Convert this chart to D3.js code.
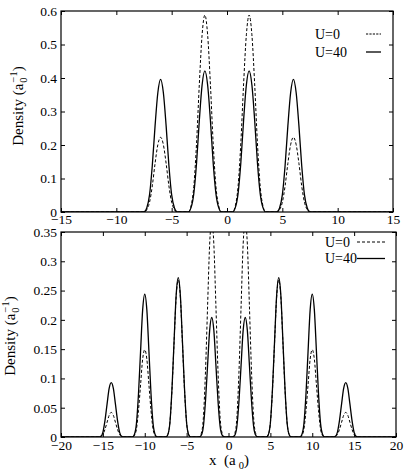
<!DOCTYPE html>
<html>
<head>
<meta charset="utf-8">
<script src="https://cdn.jsdelivr.net/npm/d3@7"></script>
<style>
  body { margin: 0; background: white; }
  svg text { font-family: "Liberation Serif", "Times New Roman", serif; fill: black; }
</style>
</head>
<body>
<div id="chart"></div>
<script>
// top panel samples (x in a0)
var topX = [-15,
  -7.5, -7.25, -7, -6.75, -6.5, -6.25, -6, -5.75, -5.5, -5.25, -5, -4.75, -4.5,
  -3.5, -3.25, -3, -2.75, -2.5, -2.25, -2, -1.75, -1.5, -1.25, -1, -0.75, -0.5,
  0.5, 0.75, 1, 1.25, 1.5, 1.75, 2, 2.25, 2.5, 2.75, 3, 3.25, 3.5,
  4.5, 4.75, 5, 5.25, 5.5, 5.75, 6, 6.25, 6.5, 6.75, 7, 7.25, 7.5,
  15];
var topU0 = [0,
  0, .007, .029, .078, .145, .201, .223, .201, .145, .078, .029, .007, 0,
  0, .018, .076, .206, .382, .529, .588, .529, .382, .206, .076, .018, 0,
  0, .018, .076, .206, .382, .529, .588, .529, .382, .206, .076, .018, 0,
  0, .007, .029, .078, .145, .201, .223, .201, .145, .078, .029, .007, 0,
  0];
var topU40 = [0,
  0, .012, .051, .139, .257, .356, .396, .356, .257, .139, .051, .012, 0,
  0, .013, .055, .147, .274, .379, .421, .379, .274, .147, .055, .013, 0,
  0, .013, .055, .147, .274, .379, .421, .379, .274, .147, .055, .013, 0,
  0, .012, .051, .139, .257, .356, .396, .356, .257, .139, .051, .012, 0,
  0];

// bottom panel samples
var botX = [-20,
  -15.5, -15.25, -15, -14.75, -14.5, -14.25, -14, -13.75, -13.5, -13.25, -13, -12.75, -12.5,
  -11.5, -11.25, -11, -10.75, -10.5, -10.25, -10, -9.75, -9.5, -9.25, -9, -8.75, -8.5,
  -7.5, -7.25, -7, -6.75, -6.5, -6.25, -6, -5.75, -5.5, -5.25, -5, -4.75, -4.5,
  -3.5, -3.25, -3, -2.75, -2.5, -2.25, -2, -1.75, -1.5, -1.25, -1, -0.75, -0.5,
  0.5, 0.75, 1, 1.25, 1.5, 1.75, 2, 2.25, 2.5, 2.75, 3, 3.25, 3.5,
  4.5, 4.75, 5, 5.25, 5.5, 5.75, 6, 6.25, 6.5, 6.75, 7, 7.25, 7.5,
  8.5, 8.75, 9, 9.25, 9.5, 9.75, 10, 10.25, 10.5, 10.75, 11, 11.25, 11.5,
  12.5, 12.75, 13, 13.25, 13.5, 13.75, 14, 14.25, 14.5, 14.75, 15, 15.25, 15.5,
  20];
var botU0 = [0,
  0, .001, .004, .013, .025, .037, .042, .037, .025, .013, .004, .001, 0,
  0, .002, .013, .045, .089, .133, .149, .133, .089, .045, .013, .002, 0,
  0, .004, .024, .080, .161, .239, .268, .239, .161, .080, .024, .004, 0,
  0, .006, .033, .111, .222, .329, .370, .329, .222, .111, .033, .006, 0,
  0, .006, .033, .111, .222, .329, .370, .329, .222, .111, .033, .006, 0,
  0, .004, .024, .080, .161, .239, .268, .239, .161, .080, .024, .004, 0,
  0, .002, .013, .045, .089, .133, .149, .133, .089, .045, .013, .002, 0,
  0, .001, .004, .013, .025, .037, .042, .037, .025, .013, .004, .001, 0,
  0];
var botU40 = [0,
  0, .001, .008, .028, .056, .083, .093, .083, .056, .028, .008, .001, 0,
  0, .004, .022, .073, .146, .217, .244, .217, .146, .073, .022, .004, 0,
  0, .004, .024, .082, .163, .242, .272, .242, .163, .082, .024, .004, 0,
  0, .003, .018, .061, .122, .182, .204, .182, .122, .061, .018, .003, 0,
  0, .003, .018, .061, .122, .182, .204, .182, .122, .061, .018, .003, 0,
  0, .004, .024, .082, .163, .242, .272, .242, .163, .082, .024, .004, 0,
  0, .004, .022, .073, .146, .217, .244, .217, .146, .073, .022, .004, 0,
  0, .001, .008, .028, .056, .083, .093, .083, .056, .028, .008, .001, 0,
  0];

var topXTicks = [-15, -10, -5, 0, 5, 10, 15];
var topYTicks = [0, 0.1, 0.2, 0.3, 0.4, 0.5, 0.6];
var botXTicks = [-20, -15, -10, -5, 0, 5, 10, 15, 20];
var botYTicks = [0, 0.05, 0.1, 0.15, 0.2, 0.25, 0.3, 0.35];
var legendNames = ["U=0", "U=40"];

var width = 404, height = 470;

var svg = d3.select('#chart').append('svg')
    .attr('width', width)
    .attr('height', height);

var fmt = function(d) { return d3.format("")(d); };

function panel(p) {
    var x = d3.scaleLinear().domain(p.xDomain).range([p.left, p.right]);
    var y = d3.scaleLinear().domain(p.yDomain).range([p.bottom, p.top]);
    var g = svg.append("g");

    g.append("clipPath").attr("id", p.id)
      .append("rect")
        .attr("x", p.left).attr("y", p.top)
        .attr("width", p.right - p.left).attr("height", p.bottom - p.top);

    // inward ticks on all four sides
    var ax = g.append("g").attr("transform", "translate(0," + p.bottom + ")")
        .call(d3.axisBottom(x).tickValues(p.xTicks).tickSize(-4).tickSizeOuter(0).tickPadding(p.xPad).tickFormat(fmt));
    var ay = g.append("g").attr("transform", "translate(" + p.left + ",0)")
        .call(d3.axisLeft(y).tickValues(p.yTicks).tickSize(-4).tickSizeOuter(0).tickPadding(4).tickFormat(fmt));
    var at = g.append("g").attr("transform", "translate(0," + p.top + ")")
        .call(d3.axisTop(x).tickValues(p.xTicks).tickSize(-4).tickSizeOuter(0).tickFormat(""));
    var ar = g.append("g").attr("transform", "translate(" + p.right + ",0)")
        .call(d3.axisRight(y).tickValues(p.yTicks).tickSize(-4).tickSizeOuter(0).tickFormat(""));
    [ax, ay, at, ar].forEach(function(a) {
        a.select(".domain").remove();
        a.selectAll("line").attr("stroke", "#000");
        a.selectAll("text").style("font-size", "13.5px");
    });

    var line = d3.line()
        .x(function(d) { return x(d[0]); })
        .y(function(d) { return y(d[1]); })
        .curve(d3.curveMonotoneX);

    var lines = g.append("g").attr("clip-path", "url(#" + p.id + ")");
    lines.append("path")
        .datum(p.xs.map(function(v, i) { return [v, p.u0[i]]; }))
        .attr("d", line).attr("fill", "none").attr("stroke", "#000")
        .attr("stroke-width", 1).attr("stroke-dasharray", "3,2");
    lines.append("path")
        .datum(p.xs.map(function(v, i) { return [v, p.u40[i]]; }))
        .attr("d", line).attr("fill", "none").attr("stroke", "#000")
        .attr("stroke-width", 1.3);

    g.append("rect")
        .attr("x", p.left).attr("y", p.top)
        .attr("width", p.right - p.left).attr("height", p.bottom - p.top)
        .attr("fill", "none").attr("stroke", "#000").attr("stroke-width", 1.2);

    // legend
    legendNames.forEach(function(name, i) {
        var ly = p.legY + i * p.legStep;
        g.append("text").attr("x", p.legX).attr("y", ly + 4.5)
            .style("font-size", "14px").text(name);
        g.append("line")
            .attr("x1", p.legL1).attr("x2", p.legL2)
            .attr("y1", ly).attr("y2", ly)
            .attr("stroke", "#000")
            .attr("stroke-width", i == 0 ? 1 : 1.3)
            .attr("stroke-dasharray", i == 0 ? p.legDash : null);
    });

    // y label: Density (a_0^-1)
    var yl = g.append("text")
        .attr("transform", "translate(" + p.yLabX + "," + p.yLabY + ") rotate(-90)")
        .attr("text-anchor", "middle")
        .style("font-size", "15px");
    yl.append("tspan").text("Density  (a");
    yl.append("tspan").attr("dy", 4).attr("dx", 1).style("font-size", "10.5px").text("0");
    yl.append("tspan").attr("dy", -10).attr("dx", -5).style("font-size", "10.5px").text("\u22121");
    yl.append("tspan").attr("dy", 6).text(")");
}

panel({
    id: "clipTop", left: 61, right: 393, top: 11, bottom: 212,
    xDomain: [-15, 15], yDomain: [0, 0.6],
    xTicks: topXTicks, yTicks: topYTicks, xPad: 2.5,
    xs: topX, u0: topU0, u40: topU40,
    legX: 315, legY: 34, legStep: 18, legL1: 366, legL2: 381, legDash: "2.2,1.2",
    yLabX: 23, yLabY: 106
});

panel({
    id: "clipBot", left: 61, right: 396, top: 232, bottom: 437,
    xDomain: [-20, 20], yDomain: [0, 0.35],
    xTicks: botXTicks, yTicks: botYTicks, xPad: 3,
    xs: botX, u0: botU0, u40: botU40,
    legX: 325, legY: 242, legStep: 16.5, legL1: 357, legL2: 385, legDash: "3,2",
    yLabX: 14.5, yLabY: 336
});

// x label: x (a_0)
var xl = svg.append("text")
    .attr("x", 229).attr("y", 465)
    .attr("text-anchor", "middle")
    .style("font-size", "15px")
    .style("white-space", "pre");
xl.append("tspan").text("x  (a");
xl.append("tspan").attr("dx", 3).attr("dy", 4).style("font-size", "10.5px").text("0");
xl.append("tspan").attr("dy", -4).text(")");
</script>
</body>
</html>
